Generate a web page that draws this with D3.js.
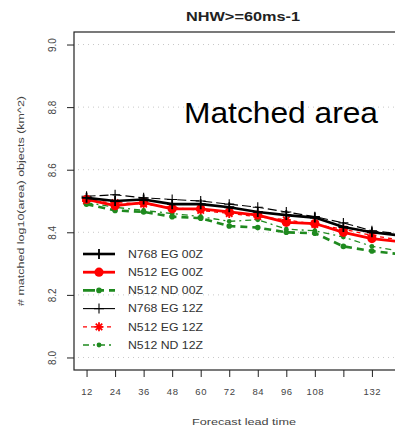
<!DOCTYPE html>
<html>
<head>
<meta charset="utf-8">
<script src="https://cdn.jsdelivr.net/npm/d3@7"></script>
<style>
  html, body { margin: 0; padding: 0; background: #fff; overflow: hidden; }
  svg { display: block; font-family: "Liberation Sans", Arial, sans-serif; }
</style>
</head>
<body>
<svg id="chart" width="395" height="428"></svg>
<script>
// Forecast lead times (hours)
const leadTimes = [12, 24, 36, 48, 60, 72, 84, 96, 108, 120, 132, 144];
// labels that would collide with their neighbours are left blank
const xTickLabels = ["12", "24", "36", "48", "60", "72", "84", "96", "108", "", "132", ""];
const yTicks = [8.0, 8.2, 8.4, 8.6, 8.8, 9.0];

// log10 of matched object area for each configuration
const n768eg00 = [8.510, 8.500, 8.505, 8.490, 8.490, 8.480, 8.465, 8.455, 8.447, 8.417, 8.400, 8.390];
const n512eg00 = [8.505, 8.485, 8.495, 8.475, 8.475, 8.465, 8.455, 8.432, 8.428, 8.400, 8.380, 8.370];
const n512nd00 = [8.490, 8.470, 8.465, 8.450, 8.445, 8.420, 8.415, 8.400, 8.397, 8.355, 8.340, 8.330];
const n768eg12 = [8.515, 8.520, 8.510, 8.505, 8.500, 8.490, 8.480, 8.465, 8.450, 8.430, 8.405, 8.395];
const n512eg12 = [8.500, 8.495, 8.490, 8.480, 8.470, 8.460, 8.450, 8.440, 8.425, 8.410, 8.390, 8.375];
const n512nd12 = [8.495, 8.480, 8.470, 8.460, 8.450, 8.435, 8.440, 8.410, 8.405, 8.385, 8.355, 8.340];

const seriesNames = ["N768 EG 00Z", "N512 EG 00Z", "N512 ND 00Z", "N768 EG 12Z", "N512 EG 12Z", "N512 ND 12Z"];
const seriesValues = [n768eg00, n512eg00, n512nd00, n768eg12, n512eg12, n512nd12];

const GREEN = "#1f8a1f";
const styles = [
  { color: "#000", width: 2.6, dash: null,    marker: "plus",   size: 5 },
  { color: "#ff0000", width: 2.8, dash: null, marker: "circle", size: 4.6 },
  { color: GREEN, width: 2.6, dash: "7,5",    marker: "circle", size: 2.8 },
  { color: "#000", width: 1.1, dash: "9,4",   marker: "plus",   size: 5 },
  { color: "#ff0000", width: 1.3, dash: "4,4", marker: "star",  size: 4.5 },
  { color: GREEN, width: 1.3, dash: "6,4,2,4", marker: "circle", size: 2.4 }
];

const svg = d3.select("#chart");
const plot = { left: 74, right: 413, top: 32, bottom: 370 };

// R-style 4% padding around the data range
const x = d3.scaleLinear().domain([6.72, 149.28]).range([plot.left, plot.right]);
const y = d3.scaleLinear().domain([7.96, 9.04]).range([plot.bottom, plot.top]);

// dotted horizontal guides
svg.append("g").selectAll("line").data(yTicks).join("line")
  .attr("x1", plot.left + 4).attr("x2", plot.right)
  .attr("y1", d => y(d)).attr("y2", d => y(d))
  .attr("stroke", "#c8c8c8").attr("stroke-width", 1).attr("stroke-dasharray", "1,4");

// frame
svg.append("rect")
  .attr("x", plot.left).attr("y", plot.top)
  .attr("width", plot.right - plot.left).attr("height", plot.bottom - plot.top)
  .attr("fill", "none").attr("stroke", "#222").attr("stroke-width", 1.2);

// y axis
const yAxis = svg.append("g").attr("transform", `translate(${plot.left},0)`)
  .call(d3.axisLeft(y).tickValues(yTicks).tickSize(7).tickFormat(d3.format(".1f")));
yAxis.select(".domain").remove();
yAxis.selectAll(".tick line").attr("stroke", "#222");
yAxis.selectAll(".tick text")
  .attr("transform", "rotate(-90)")
  .attr("x", 0).attr("y", -22)
  .attr("dy", "0.35em")
  .attr("text-anchor", "middle")
  .attr("fill", "#444").attr("font-size", 10).attr("font-family", "Liberation Sans, Arial, sans-serif");

// x axis
const xAxis = svg.append("g").attr("transform", `translate(0,${plot.bottom})`)
  .call(d3.axisBottom(x).tickValues(leadTimes).tickSize(7)
    .tickFormat((d, i) => xTickLabels[i]));
xAxis.select(".domain").remove();
xAxis.selectAll(".tick line").attr("stroke", "#222");
xAxis.selectAll(".tick text")
  .attr("y", 22).attr("dy", "0.35em")
  .attr("fill", "#444").attr("font-size", 9.5).attr("letter-spacing", 0.6)
  .attr("font-family", "Liberation Sans, Arial, sans-serif");

// axis titles
svg.append("text")
  .attr("transform", `translate(24,${(plot.top + plot.bottom) / 2}) rotate(-90)`)
  .attr("text-anchor", "middle")
  .attr("font-size", 9.5).attr("fill", "#444")
  .attr("textLength", 210).attr("lengthAdjust", "spacingAndGlyphs")
  .text("# matched log10(area) objects (km^2)");

svg.append("text")
  .attr("x", 244).attr("y", 425)
  .attr("text-anchor", "middle")
  .attr("font-size", 9.5).attr("fill", "#444")
  .attr("textLength", 104).attr("lengthAdjust", "spacingAndGlyphs")
  .text("Forecast lead time");

// title and annotation
svg.append("text")
  .attr("x", 186).attr("y", 21)
  .attr("font-size", 12).attr("font-weight", "bold").attr("fill", "#222")
  .attr("textLength", 114).attr("lengthAdjust", "spacingAndGlyphs")
  .text("NHW>=60ms-1");

svg.append("text")
  .attr("x", 184).attr("y", 123)
  .attr("font-size", 30).attr("fill", "#000")
  .attr("textLength", 194).attr("lengthAdjust", "spacingAndGlyphs")
  .text("Matched area");

// marker drawing helper
function drawMarker(g, cx, cy, st) {
  const s = st.size;
  if (st.marker === "plus") {
    g.append("path")
      .attr("d", `M${cx - s},${cy}H${cx + s}M${cx},${cy - s}V${cy + s}`)
      .attr("stroke", st.color).attr("stroke-width", st.width > 2 ? 1.8 : 1.1).attr("fill", "none");
  } else if (st.marker === "circle") {
    g.append("circle").attr("cx", cx).attr("cy", cy).attr("r", s).attr("fill", st.color);
  } else if (st.marker === "star") {
    const d = s * 0.72;
    g.append("path")
      .attr("d", `M${cx - s},${cy}H${cx + s}M${cx},${cy - s}V${cy + s}` +
                 `M${cx - d},${cy - d}L${cx + d},${cy + d}M${cx - d},${cy + d}L${cx + d},${cy - d}`)
      .attr("stroke", st.color).attr("stroke-width", 1.8).attr("fill", "none");
  }
}

const line = d3.line().x((d, i) => x(leadTimes[i])).y(d => y(d));

// draw 12Z first, 00Z on top
const order = [3, 4, 5, 2, 1, 0];
const seriesG = svg.append("g");
order.forEach(k => {
  const st = styles[k];
  const g = seriesG.append("g");
  g.append("path")
    .attr("d", line(seriesValues[k]))
    .attr("fill", "none")
    .attr("stroke", st.color)
    .attr("stroke-width", st.width)
    .attr("stroke-dasharray", st.dash)
    .attr("stroke-linejoin", "round");
  seriesValues[k].forEach((v, i) => drawMarker(g, x(leadTimes[i]), y(v), st));
});

// legend
const legend = svg.append("g");
seriesNames.forEach((name, k) => {
  const st = styles[k];
  const ly = 254 + k * 18.2;
  const g = legend.append("g");
  g.append("line")
    .attr("x1", 83).attr("x2", 115).attr("y1", ly).attr("y2", ly)
    .attr("stroke", st.color).attr("stroke-width", st.width)
    .attr("stroke-dasharray", k === 2 ? "12,5,4,5" : (k === 3 ? null : st.dash));
  drawMarker(g, 99, ly, st);
  g.append("text")
    .attr("x", 128).attr("y", ly).attr("dy", "0.36em")
    .attr("font-size", 10.5).attr("fill", "#333")
    .attr("textLength", 75).attr("lengthAdjust", "spacingAndGlyphs")
    .text(name);
});
</script>
</body>
</html>
